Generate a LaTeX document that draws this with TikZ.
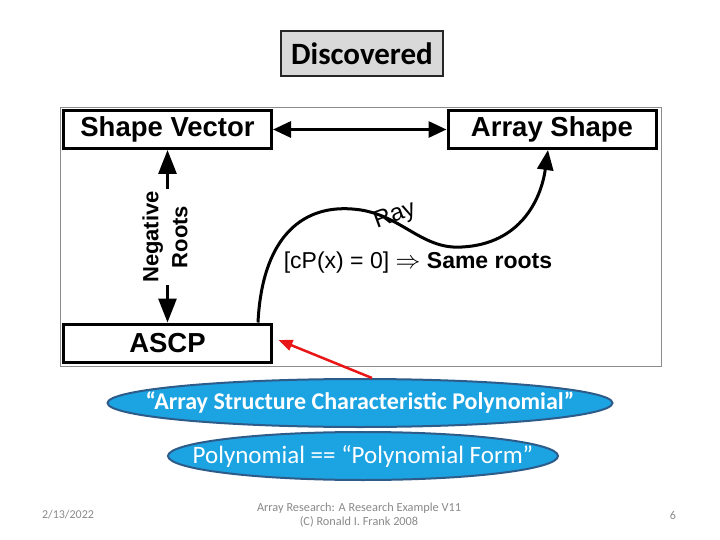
\documentclass[tikz,border=0pt]{standalone}
\usepackage{fontspec}
\setmainfont{Carlito}
\newfontfamily\arialfont{Liberation Sans}
\usetikzlibrary{arrows.meta,positioning,shapes.geometric}
\definecolor{skyfill}{RGB}{27,163,226}
\definecolor{skyedge}{RGB}{46,92,138}
\definecolor{boxgray}{RGB}{217,217,217}
\definecolor{footgray}{RGB}{137,137,137}
\definecolor{ptrred}{RGB}{232,22,22}
\tikzset{
  figbox/.style={draw, line width=3pt, minimum width=208pt, minimum height=38pt, inner sep=0pt,
    font=\arialfont\bfseries\fontsize{27.5}{31}\selectfont},
  fatarrow/.style={line width=3pt, {Triangle[length=18pt,width=16pt]}-{Triangle[length=18pt,width=16pt]}},
  oval/.style={ellipse, draw=skyedge, fill=skyfill, line width=2pt, inner sep=0pt,
    minimum height=48pt},
  ovaltext/.style={text=white, inner sep=0pt},
  foot/.style={text=footgray, font=\fontsize{12}{14}\selectfont}
}
\begin{document}
\begin{tikzpicture}[x=1pt, y=-1pt]
\useasboundingbox (0,0) rectangle (720,540);
% title
\node[draw=black!85, line width=2pt, fill=boxgray, minimum width=162pt, minimum height=45pt,
  font=\bfseries\fontsize{31}{35}\selectfont] (title) at (362,53.5) {Discovered};

% picture frame
\draw[black!45, line width=0.8pt] (60,107) rectangle (661,366);

% the three boxes
\node[figbox] (shapevec) at (167.5,129.5) {Shape Vector};
\node[figbox] (arrshape) at (552,129.5) {Array Shape};
\node[figbox] (ascp) at (167.5,343) {ASCP};

\draw[fatarrow] (shapevec) -- (arrshape);

% negative roots
\node[rotate=90, align=center, inner sep=2pt,
  font=\arialfont\bfseries\fontsize{22}{29}\selectfont] (negroots) at (165,237) {Negative\\Roots};
\draw[line width=3pt, -{Triangle[length=24pt,width=18pt]}] (shapevec.south |- negroots.east) -- (shapevec.south);
\draw[line width=3pt, -{Triangle[length=24pt,width=18pt]}] (ascp.north |- negroots.west) -- (ascp.north);

% the ray
\draw[line width=3pt, -{Triangle[length=20pt,width=16pt]}] ([xshift=-15pt]ascp.north east)
  .. controls (262,240) and (300,205) .. (352,209)
  .. controls (400,212) and (420,250) .. (462,247)
  .. controls (520,244) and (541,200) .. ([xshift=-4pt]arrshape.south);
\node[rotate=20, font=\arialfont\fontsize{24}{28}\selectfont] (raylbl) at (395,216) {Ray};
\node[font=\arialfont\fontsize{23}{27}\selectfont] (samerts) at (418,263)
  {[cP(x) = 0] $\Rightarrow$ \textbf{Same roots}};

% explanations
\node[oval, minimum width=505pt] (aspoly) at (360,403) {};
\node[ovaltext, font=\bfseries\fontsize{24}{28}\selectfont] (aspolytxt) at (aspoly)
  {“Array Structure Characteristic Polynomial”};
\node[oval, minimum width=390pt] (polyform) at (363,456) {};
\node[ovaltext, font=\fontsize{25}{29}\selectfont] (polyformtxt) at (polyform)
  {Polynomial == “Polynomial Form”};
\draw[ptrred, line width=2.5pt, -{Triangle[length=14pt,width=11pt]}] ([xshift=12pt]aspoly.north)
  -- ([xshift=5.5pt,yshift=3pt]ascp.east);

% footer
\node[foot] (date) at (68,515) {2/13/2022};
\node[foot, align=center, font=\fontsize{12.3}{14}\selectfont] (credit) at (359,515)
  {Array Research: A Research Example V11\\(C) Ronald I. Frank 2008};
\node[foot] (pagenum) at (673,515) {6};
\end{tikzpicture}
\end{document}
